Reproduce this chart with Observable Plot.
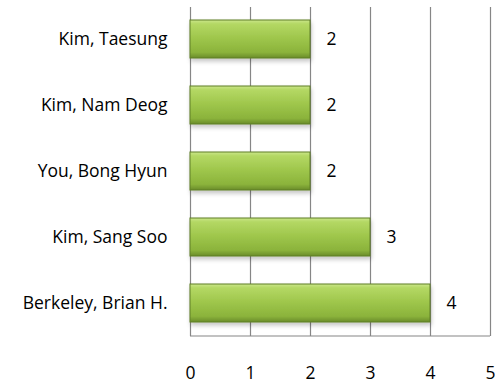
<!DOCTYPE html>
<html><head><meta charset="utf-8">
<script src="https://cdn.jsdelivr.net/npm/d3@7"></script>
<script src="https://cdn.jsdelivr.net/npm/@observablehq/plot@0.6"></script>
<style>
body{margin:0;background:#fff;}
svg{font-family:"Open Sans",sans-serif;}
</style></head><body>
<div id="chart"></div>
<script>
const names = ["Kim, Taesung","Kim, Nam Deog","You, Bong Hyun","Kim, Sang Soo","Berkeley, Brian H."];
const counts = [2,2,2,3,4];
const ticks = [0,1,2,3,4,5];
const data = names.map((n,i)=>({name:n,value:counts[i]}));

const chart = Plot.plot({
  width:495, height:383,
  marginTop:7, marginBottom:47, marginLeft:190, marginRight:5,
  style:{fontSize:"17.5px", fontFamily:"'Open Sans', sans-serif", color:"#000", background:"#fff"},
  x:{domain:[0,5], ticks:ticks, tickFormat:"d", tickSize:0, tickPadding:30, label:null},
  y:{domain:names, paddingInner:0.42, paddingOuter:0.2, tickSize:0, tickPadding:23, label:null},
  marks:[
    Plot.gridX(ticks,{stroke:"#868686", strokeOpacity:1, strokeWidth:1.2}),
    Plot.barX(data,{x:"value", y:"name", fill:"url(#barGrad)", stroke:"#5f7f26", strokeWidth:1}),
    Plot.text(data,{x:"value", y:"name", text:d=>String(d.value), dx:16, textAnchor:"start", fill:"#000", fontSize:17.5})
  ]
});
const svg = d3.select(chart);
const x = chart.scale("x");
svg.append("line").attr("x1",x.apply(0)).attr("x2",x.apply(5)).attr("y1",383-47).attr("y2",383-47).attr("stroke","#868686").attr("stroke-width",1.2);
const defs = svg.insert("defs",":first-child");
const g = defs.append("linearGradient").attr("id","barGrad").attr("x1",0).attr("y1",0).attr("x2",0).attr("y2",1);
[[0,"#cbe68a"],[0.1,"#b4d864"],[0.5,"#9dc54a"],[0.85,"#8bb33b"],[1,"#6a8c2a"]].forEach(([o,c])=>g.append("stop").attr("offset",o).attr("stop-color",c));
const f = defs.append("filter").attr("id","sh").attr("x","-5%").attr("y","-20%").attr("width","115%").attr("height","160%");
f.append("feDropShadow").attr("dx",1).attr("dy",3).attr("stdDeviation",2).attr("flood-color","#000").attr("flood-opacity",0.22);
svg.selectAll("g[aria-label='bar'] rect").attr("filter","url(#sh)");
document.getElementById("chart").appendChild(chart);
</script>
</body></html>
